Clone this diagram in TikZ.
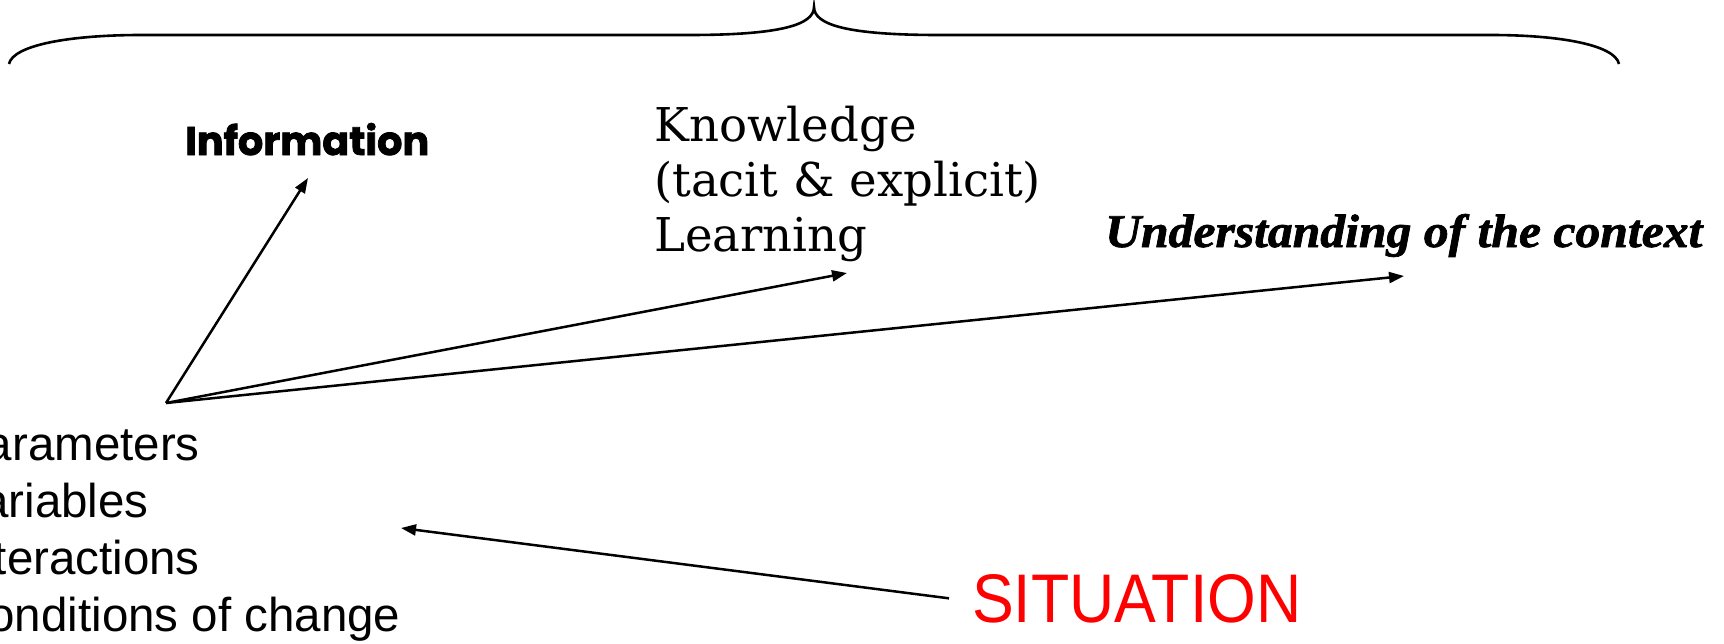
\documentclass[tikz,border=0pt]{standalone}
\usepackage{fontspec}
\setmainfont{DejaVu Serif}
\newfontfamily\sansfont{Liberation Sans}
\newfontfamily\infofont{Poppins}[BoldFeatures={FakeBold=2}]
\newfontfamily\fancyfont{Liberation Serif}[BoldItalicFeatures={FakeBold=1.5}]
\usetikzlibrary{arrows.meta}
\begin{document}
\begin{tikzpicture}[x=1pt,y=-1pt,
  arr/.style={line width=2.5pt,-{Triangle[length=15pt,width=11pt]}},
  brace/.style={line width=2.6pt},
  txt/.style={inner sep=0pt,anchor=base west}]
\useasboundingbox (0,0) rectangle (1724,643);
\clip (0,0) rectangle (1724,643);
\draw[brace] (9,64) .. controls (13,45) and (70,35) .. (141,35) -- (689,35)
  .. controls (780,35) and (814,25) .. (814,7)
  .. controls (814,25) and (848,35) .. (939,35) -- (1491,35)
  .. controls (1560,35) and (1615,45) .. (1619,64);

\node[txt] (info) at (185,155) {\resizebox{244pt}{32pt}{\infofont\bfseries Information}};
\node[txt, font=\fontsize{46.6}{55}\selectfont, align=left] (know) at (654,251) {Knowledge\\(tacit \& explicit)\\Learning};
\node[txt] (under) at (1105,247) {\resizebox{597pt}{33pt}{\fancyfont\bfseries\itshape Understanding of the context}};
\node[txt, font=\sansfont\fontsize{47.5}{57}\selectfont, align=left] (list) at (-46,631) {Parameters\\Variables\\Interactions\\Conditions of change};
\node[txt, text=red] (sit) at (972,622) {\resizebox{329pt}{48pt}{\sansfont SITUATION}};

\coordinate (hub) at (166,403);
\coordinate (infotip) at (308,178);
\coordinate (knowtip) at (847,273);
\coordinate (undertip) at (1404,276);
\coordinate (listtip) at (401,528);

\draw[arr] (hub) -- (infotip);
\draw[arr] (hub) -- (knowtip);
\draw[arr] (hub) -- (undertip);
\draw[arr] ([xshift=-23pt]sit.west) -- (listtip);
\end{tikzpicture}
\end{document}
